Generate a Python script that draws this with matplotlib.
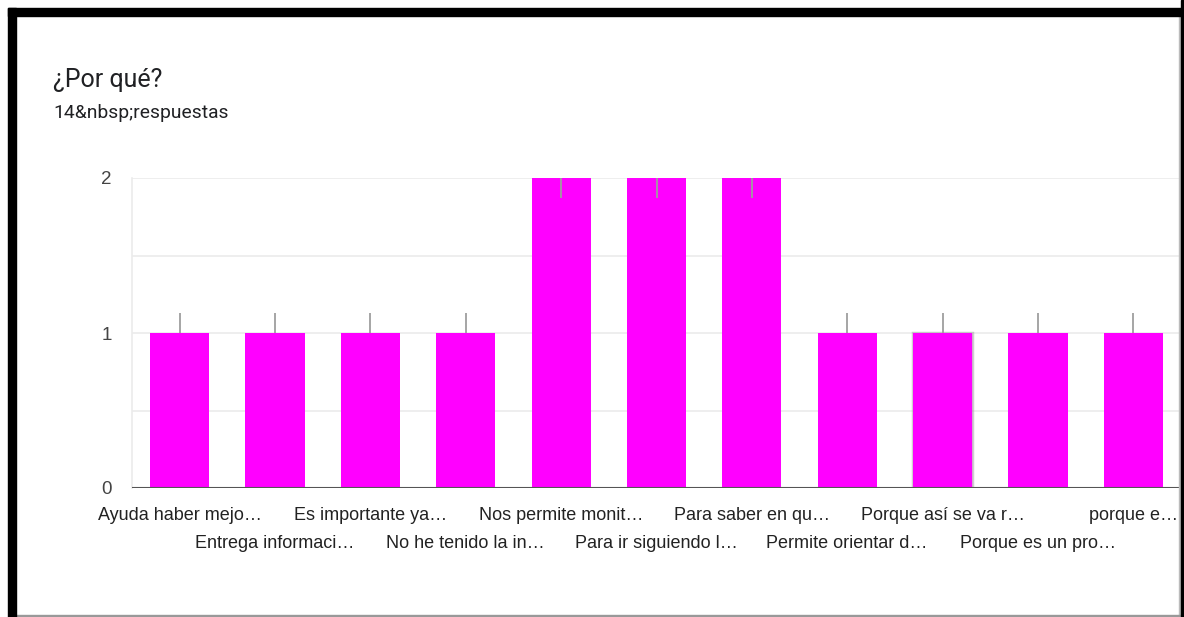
import matplotlib
matplotlib.use("Agg")
import matplotlib.pyplot as plt
from matplotlib.patches import Rectangle
import matplotlib.patheffects as pe

categories = [
    "Ayuda haber mejo…", "Entrega informaci…", "Es importante ya…",
    "No he tenido la in…", "Nos permite monit…", "Para ir siguiendo l…",
    "Para saber en qu…", "Permite orientar d…", "Porque así se va r…",
    "Porque es un pro…", "porque e…",
]
values = [1, 1, 1, 1, 2, 2, 2, 1, 1, 1, 1]
yticks = [0, 1, 2]
title = "¿Por qué?"
subtitle = "14&nbsp;respuestas"

W, H = 1184, 617
fig = plt.figure(figsize=(W / 100, H / 100), dpi=100)
fig.patch.set_facecolor("white")

def fx(px):
    return px / W

def fy(py):
    return 1 - py / H

# frame (screenshot border)
fig.patches.append(Rectangle((fx(8), fy(617)), fx(8), fy(8) - fy(617) + 0.0001,
                             transform=fig.transFigure, color="black", zorder=10))
fig.patches.append(Rectangle((fx(8), fy(16)), fx(1184 - 8), fy(8) - fy(16),
                             transform=fig.transFigure, color="black", zorder=10))
fig.patches.append(Rectangle((fx(1181), fy(617)), fx(3), 1 - fy(617),
                             transform=fig.transFigure, color="black", zorder=10))
fig.patches.append(Rectangle((fx(1179), fy(617)), fx(2), fy(16) - fy(617),
                             transform=fig.transFigure, color="#bbbbbb", zorder=9))
fig.patches.append(Rectangle((fx(16), fy(617)), fx(1165), fx(2) * W / H,
                             transform=fig.transFigure, color="#999999", zorder=9))

fig.text(fx(53), fy(80), title, fontsize=18, family=["Roboto", "DejaVu Sans"],
         color="#202124", va="center", ha="left")
fig.text(fx(53), fy(113), subtitle, fontsize=13.9, family=["Roboto", "DejaVu Sans"],
         color="#202124", va="center", ha="left")

left, right, top, bottom = 132, 1181, 178, 488
ax = fig.add_axes([fx(left), fy(bottom), fx(right - left), fy(top) - fy(bottom)])
x = list(range(len(categories)))
bars = ax.bar(x, values, width=0.62, color="#ff00ff", zorder=3)
bars[8].set_path_effects([pe.SimplePatchShadow(offset=(0, 0), shadow_rgbFace="#777777", alpha=0.5),
                          pe.withStroke(linewidth=2.5, foreground="#a0a0a0", alpha=0.5)])

# annotation stems
for xi, v in zip(x, values):
    if v >= 2:
        ax.plot([xi, xi], [v, v - 0.13], color="#9e9e9e", lw=1.3, zorder=4,
                solid_capstyle="butt")
    else:
        ax.plot([xi, xi], [v, v + 0.13], color="#9e9e9e", lw=1.3, zorder=4,
                solid_capstyle="butt")

ax.set_xlim(-0.5, len(categories) - 0.5)
ax.set_ylim(0, 2)
ax.set_yticks(yticks)
ax.set_yticklabels([str(t) for t in yticks])
for gy in [0.5, 1, 1.5, 2]:
    ax.axhline(gy, color="#ebebeb", lw=1.2, zorder=1)
ax.axhline(0, color="#555555", lw=1.5, zorder=5)
for s in ["top", "right", "bottom"]:
    ax.spines[s].set_visible(False)
ax.spines["left"].set_color("#ebebeb")
ax.spines["left"].set_linewidth(1.2)

ax.tick_params(axis="y", length=0, pad=14.5, labelsize=13.5, labelcolor="#444444")
ax.tick_params(axis="x", length=0, labelsize=13, labelcolor="#222222")
for lab in ax.get_yticklabels():
    lab.set_family(["Liberation Sans", "DejaVu Sans"])
ax.set_xticks(x)
ax.set_xticklabels(categories, family=["Liberation Sans", "DejaVu Sans"])
for i, t in enumerate(ax.xaxis.get_major_ticks()):
    t.set_pad(13.5 if i % 2 == 0 else 33.5)

fig.savefig("out.png", dpi=100, facecolor="white")
